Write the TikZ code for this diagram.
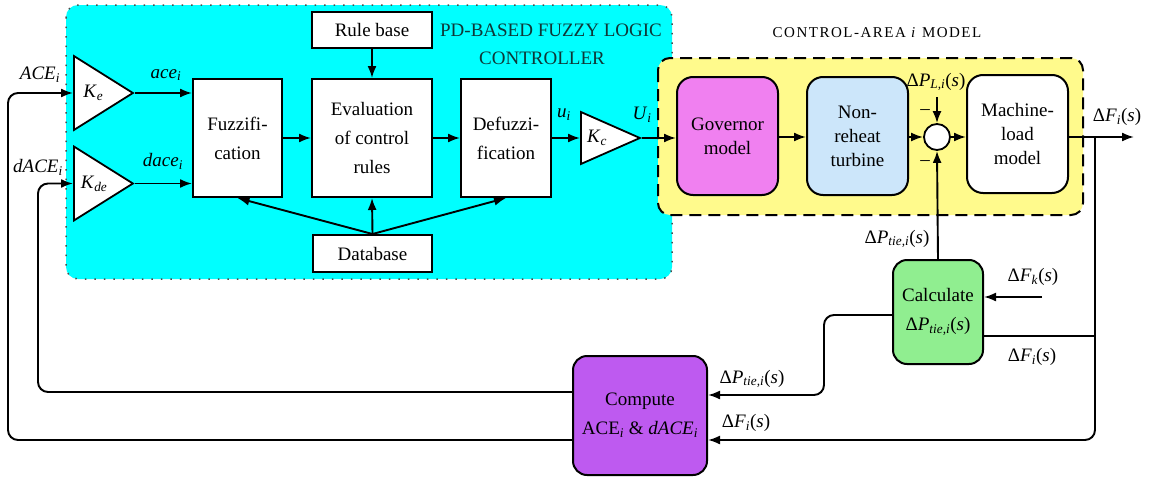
\documentclass[tikz,border=0pt]{standalone}
\usepackage{fontspec}
\setmainfont{Liberation Serif}
\usepackage{tikz}
\usetikzlibrary{shapes.geometric}
\usetikzlibrary{arrows.meta}
\usetikzlibrary{calc}
\tikzset{>={Latex[length=12pt,width=9pt]}}

\definecolor{flcbg}{RGB}{0,255,255}
\definecolor{areabg}{RGB}{255,250,140}
\definecolor{govfill}{RGB}{240,128,240}
\definecolor{turbfill}{RGB}{204,230,250}
\definecolor{calcfill}{RGB}{144,238,144}
\definecolor{acefill}{RGB}{190,90,240}
\definecolor{titletext}{RGB}{15,55,55}

\newcommand{\isub}[1]{\textsubscript{\textit{#1}}}

\tikzset{
  block/.style={draw, fill=white, line width=2pt, minimum width=#1, minimum height=118pt, align=center, inner sep=2pt},
  smallblock/.style={draw, fill=white, line width=2pt, minimum width=120pt, minimum height=36pt, inner sep=2pt},
  areablock/.style={draw, line width=2pt, rounded corners=16pt, minimum width=101pt, minimum height=118pt, align=center, font=\fontsize{19}{24}\selectfont},
  gain/.style={draw, fill=white, line width=1.8pt, isosceles triangle, isosceles triangle stretches, shape border rotate=0, minimum width=#1, minimum height=59pt, inner sep=0pt, anchor=lower side},
  sumjunc/.style={draw, fill=white, circle, line width=1.8pt, minimum size=26pt, inner sep=0pt},
  lbl/.style={inner sep=0pt},
  titletxt/.style={text=titletext, inner sep=0pt},
}

\begin{document}
\begin{tikzpicture}[x=1pt, y=-1pt, font=\fontsize{19}{29}\selectfont, line width=1.9pt]
  \useasboundingbox (0,0) rectangle (1152,479);

  % backgrounds of the two groups
  \draw[fill=flcbg, draw=black!70, line width=1.5pt, dash pattern=on 1.5pt off 8pt, rounded corners=12pt] (66,5) rectangle (672,279);
  \draw[fill=areabg, line width=2pt, dash pattern=on 12pt off 7pt, rounded corners=12pt] (658,58) rectangle (1083,215);

  \node[titletxt] (flctitle) at (551,30) {PD-BASED FUZZY LOGIC};
  \node[titletxt] (flctitleb) at (542,58) {CONTROLLER};
  \node[lbl] (areatitle) at (877,33) {\fontsize{15}{18}\selectfont\addfontfeatures{LetterSpace=10}CONTROL-AREA \textit{i} MODEL};

  % fuzzy controller
  \node[gain=74pt] (ke) at (73,93) {\textit{K}\isub{e}\hspace{22pt}};
  \node[gain=74pt] (kde) at (73,183.5) {\textit{K}\isub{de}\hspace{20pt}};
  \node[block=89pt] (fuzz) at (237.5,138) {Fuzzifi-\\cation};
  \node[block=120pt] (eval) at (372,138) {Evaluation\\of control\\rules};
  \node[block=90pt] (defuzz) at (506,138) {Defuzzi-\\fication};
  \node[smallblock] (rule) at (372,30) {Rule base};
  \node[smallblock, minimum width=119pt, minimum height=37pt] (data) at (372.5,253.5) {Database};
  \node[gain=52pt] (kc) at (580,138) {\textit{K}\isub{c}\hspace{10pt}};

  \node[lbl] (aceL) at (40,75) {\textit{ACE}\isub{i}};
  \node[lbl] (daceL) at (38,167) {\textit{dACE}\isub{i}};
  \node[lbl] (acel) at (166,75) {\textit{ace}\isub{i}};
  \node[lbl] (dacel) at (163,161) {\textit{dace}\isub{i}};
  \node[lbl] (ul) at (564,115) {\textit{u}\isub{i}};
  \node[lbl] (Ul) at (642,115) {\textit{U}\isub{i}};

  \draw[->] (ke.apex) -- (fuzz.west |- ke.apex);
  \draw[->] (kde.apex) -- (fuzz.west |- kde.apex);
  \draw[->] (fuzz) -- (eval);
  \draw[->] (eval) -- (defuzz);
  \draw[->] (defuzz.east |- kc.lower side) -- (kc.lower side);
  \draw[->] (rule) -- (eval);
  \draw[->] (data.north) -- (fuzz.south);
  \draw[->] (data.north) -- (eval.south);
  \draw[->] (data.north) -- (defuzz.south);

  % control area
  \node[areablock, fill=govfill] (gov) at (727.5,136) {Governor\\model};
  \node[areablock, fill=turbfill] (turb) at (857.5,136) {Non-\\reheat\\turbine};
  \node[sumjunc] (sum) at (937,137) {};
  \node[areablock, fill=white] (mach) at (1017.5,134) {Machine-\\load\\model};
  \node[lbl] (dpl) at (936,82) {Δ\textit{P}\isub{L,i}(\textit{s})};
  \node[lbl] (mina) at (925,112) {\textendash};
  \node[lbl] (minb) at (925,163) {\textendash};
  \node[lbl] (dfo) at (1117,117) {Δ\textit{F}\isub{i}(\textit{s})};
  \coordinate (dplin) at (937,97);
  \coordinate (dfend) at (1134,137);
  \coordinate (br) at (1095,137);

  \draw[->] (kc.apex) -- (gov.west |- kc.apex);
  \draw[->] (gov.east |- sum) -- (turb.west |- sum);
  \draw[->] (turb.east |- sum) -- (sum);
  \draw[->] (sum) -- (mach.west |- sum);
  \draw[->] (dplin) -- (sum.north);
  \draw[->] (mach.east |- sum) -- (dfend);

  % tie-line power and ACE
  \node[draw, fill=calcfill, line width=2pt, rounded corners=14pt, minimum width=90pt, minimum height=104pt, align=center] (calc) at (938,312) {Calculate\\Δ\textit{P}\isub{tie,i}(\textit{s})};
  \node[draw, fill=acefill, line width=2pt, rounded corners=14pt, minimum width=134pt, minimum height=119pt, align=center] (ace) at (640,415.5) {Compute\\ACE\isub{i} \& \textit{dACE}\isub{i}};
  \coordinate (dfk) at (1042,297);

  \node[lbl] (dptup) at (897,239) {Δ\textit{P}\isub{tie,i}(\textit{s})};
  \node[lbl] (dfkl) at (1033,277) {Δ\textit{F}\isub{k}(\textit{s})};
  \node[lbl] (dfil) at (1032,357) {Δ\textit{F}\isub{i}(\textit{s})};
  \node[lbl] (dptl) at (752,379) {Δ\textit{P}\isub{tie,i}(\textit{s})};
  \node[lbl] (dfbl) at (746,423) {Δ\textit{F}\isub{i}(\textit{s})};

  \draw[->] (calc.north) -- (sum.south);
  \draw[->] (dfk) -- (calc.east |- dfk);
  \draw (calc.east |- 0,336) -- (br |- 0,336);
  \draw[->, rounded corners=10pt] (br) -- (1095,440) -- (ace.east |- 0,440);
  \draw[->, rounded corners=10pt] (calc.west |- 0,315) -- (824,315) -- (824,395) -- (ace.east |- 0,395);
  \draw[->, rounded corners=10pt] (ace.west |- 0,392) -- (38,392) -- (38,183.5) -- (kde.lower side);
  \draw[->, rounded corners=10pt] (ace.west |- 0,440) -- (8,440) -- (8,93) -- (ke.lower side);
\end{tikzpicture}
\end{document}
